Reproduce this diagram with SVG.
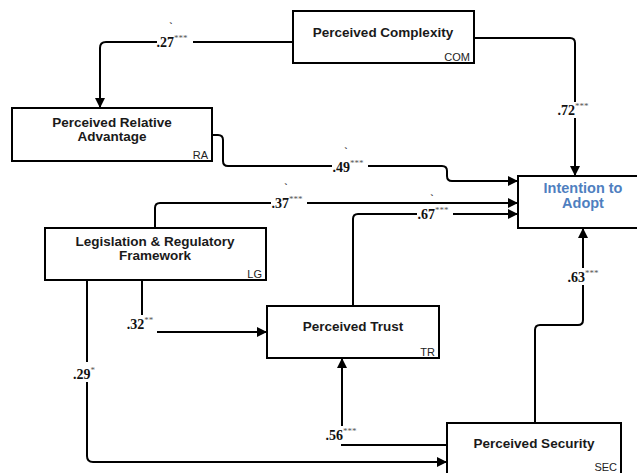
<svg xmlns="http://www.w3.org/2000/svg" width="637" height="473" viewBox="0 0 637 473">
  <style>
    .box { fill: #ffffff; stroke: #000000; stroke-width: 2; }
    .title { font-family: "Liberation Sans", Arial, sans-serif; font-weight: bold; font-size: 13.5px; fill: #1a1a1a; text-anchor: middle; }
    .goal { font-family: "Liberation Sans", Arial, sans-serif; font-weight: bold; font-size: 14.5px; fill: #4f7fbf; text-anchor: middle; }
    .code { font-family: "Liberation Sans", Arial, sans-serif; font-size: 11px; fill: #222222; text-anchor: end; }
    .edge { fill: none; stroke: #000000; stroke-width: 2; }
    .arrow { marker-end: url(#head); }
    .coef { font-family: "Liberation Serif", "Times New Roman", serif; font-weight: bold; font-size: 14px; fill: #111111; text-anchor: middle; }
    .sig { font-size: 9px; font-weight: normal; fill: #555555; }
    .tick { font-family: "Liberation Serif", serif; font-size: 10px; font-weight: bold; fill: #111111; text-anchor: middle; }
    .mask { fill: #ffffff; }
  </style>
  <defs>
    <marker id="head" viewBox="0 0 10 10" refX="10" refY="5" markerWidth="5.5" markerHeight="5" markerUnits="strokeWidth" orient="auto">
      <path d="M0,0 L10,5 L0,10 z" fill="#000000"/>
    </marker>
  </defs>

  <rect width="637" height="473" fill="#ffffff"/>

  <!-- paths between constructs -->
  <g id="connectors">
    <path class="edge arrow" d="M293,42 H106 Q100,42 100,48 V108"/>
    <path class="edge arrow" d="M474,38 H570 Q575,38 575,43 V176"/>
    <path class="edge arrow" d="M212,135 H218 Q223,135 223,140 V161 Q223,166 228,166 H442 Q447,166 447,171 V176 Q447,181 452,181 H518"/>
    <path class="edge arrow" d="M155,228 V208 Q155,203 160,203 H518"/>
    <path class="edge arrow" d="M353,306 V219 Q353,214 358,214 H518"/>
    <path class="edge arrow" d="M142,280 V332 H267"/>
    <path class="edge arrow" d="M87,280 V456 Q87,462 93,462 H447"/>
    <path class="edge arrow" d="M447,445 H342 V358"/>
    <path class="edge arrow" d="M535,423 V330 Q535,325 540,325 H578 Q583,325 583,320 V228"/>

    <!-- path coefficients -->
    <rect class="mask" x="157" y="34" width="36" height="14"/>
    <text class="coef" x="172" y="47">.27<tspan class="sig" dy="-6">***</tspan></text>
    <text class="tick" x="171" y="30">`</text>

    <rect class="mask" x="557" y="102" width="36" height="16"/>
    <text class="coef" x="573" y="115">.72<tspan class="sig" dy="-6">***</tspan></text>

    <rect class="mask" x="332" y="158" width="36" height="14"/>
    <text class="coef" x="348" y="172">.49<tspan class="sig" dy="-6">***</tspan></text>
    <text class="tick" x="346" y="155">`</text>

    <rect class="mask" x="271" y="195" width="36" height="14"/>
    <text class="coef" x="287" y="208">.37<tspan class="sig" dy="-6">***</tspan></text>
    <text class="tick" x="286" y="191">`</text>

    <rect class="mask" x="417" y="206" width="36" height="14"/>
    <text class="coef" x="433" y="219">.67<tspan class="sig" dy="-6">***</tspan></text>
    <text class="tick" x="432" y="202">`</text>

    <rect class="mask" x="127" y="315" width="30" height="18"/>
    <text class="coef" x="140" y="329">.32<tspan class="sig" dy="-6">**</tspan></text>

    <rect class="mask" x="72" y="362" width="28" height="20"/>
    <text class="coef" x="84" y="379">.29<tspan class="sig" dy="-6">*</tspan></text>

    <rect class="mask" x="325" y="426" width="36" height="18"/>
    <text class="coef" x="341" y="440">.56<tspan class="sig" dy="-6">***</tspan></text>

    <rect class="mask" x="566" y="268" width="36" height="17"/>
    <text class="coef" x="583" y="282">.63<tspan class="sig" dy="-6">***</tspan></text>
  </g>

  <g id="node-com">
    <rect class="box" x="293" y="11" width="181" height="52"/>
    <text class="title" x="383" y="37">Perceived Complexity</text>
    <text class="code" x="470" y="61">COM</text>
  </g>

  <g id="node-ra">
    <rect class="box" x="12" y="108" width="200" height="53"/>
    <text class="title" x="112" y="127">Perceived Relative</text>
    <text class="title" x="112" y="141">Advantage</text>
    <text class="code" x="208" y="159">RA</text>
  </g>

  <g id="node-int">
    <rect class="box" x="518" y="176" width="124" height="52"/>
    <text class="goal" x="583" y="193">Intention to</text>
    <text class="goal" x="583" y="208">Adopt</text>
  </g>

  <g id="node-lg">
    <rect class="box" x="45" y="228" width="221" height="52"/>
    <text class="title" x="155" y="246">Legislation &amp; Regulatory</text>
    <text class="title" x="155" y="260">Framework</text>
    <text class="code" x="262" y="278">LG</text>
  </g>

  <g id="node-tr">
    <rect class="box" x="267" y="306" width="172" height="52"/>
    <text class="title" x="353" y="331">Perceived Trust</text>
    <text class="code" x="435" y="356">TR</text>
  </g>

  <g id="node-sec">
    <rect class="box" x="447" y="423" width="174" height="56"/>
    <text class="title" x="534" y="448">Perceived Security</text>
    <text class="code" x="617" y="471">SEC</text>
  </g>
</svg>
